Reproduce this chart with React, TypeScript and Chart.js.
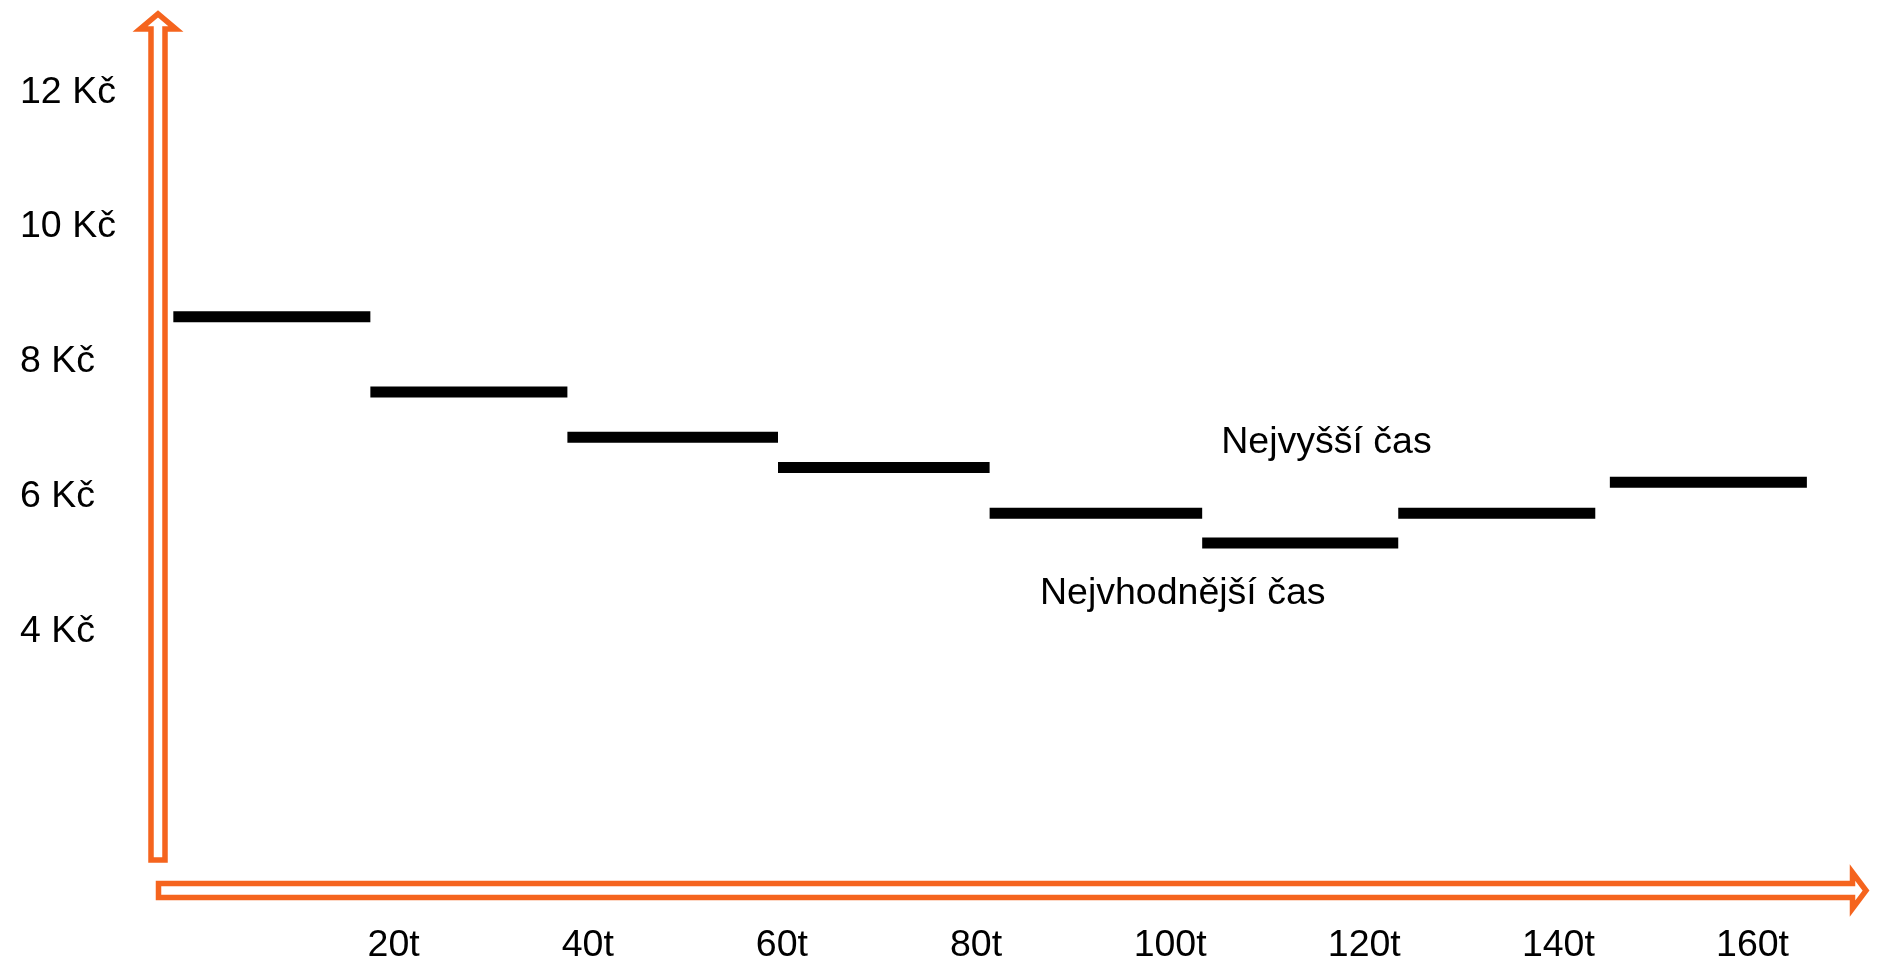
import React, { useEffect, useRef } from "react";
import { Chart, registerables } from "chart.js";

Chart.register(...registerables);

// ---- data ----
const stepStart = [-2.7, 17.6, 37.9, 59.6, 81.4, 103.3, 123.5, 145.3];
const stepEnd = [17.6, 37.9, 59.6, 81.4, 103.3, 123.5, 143.8, 165.6];
const prices = [8.67, 7.55, 6.88, 6.43, 5.75, 5.31, 5.75, 6.21];
const xTicks = [20, 40, 60, 80, 100, 120, 140, 160];
const yTicks = [4, 6, 8, 10, 12];
const xUnit = "t";
const yUnit = "Kč";
const noteTexts = ["Nejvyšší čas", "Nejvhodnější čas"];
const noteX = [116.1, 101.3];
const noteY = [6.65, 4.4];

const ORANGE = "#F5641E";
const FONT = "'Liberation Sans', Arial, sans-serif";
const FONT_SIZE = 37.5;

const decor = {
  id: "decor",
  beforeDatasetsDraw(chart: any) {
    const { ctx, chartArea: a } = chart;
    ctx.save();
    ctx.lineWidth = 5.5;
    ctx.strokeStyle = ORANGE;
    ctx.fillStyle = "#ffffff";
    ctx.lineJoin = "miter";

    // vertical block arrow (y axis)
    const cx = a.left + 7;
    const vBottom = a.bottom - 40.5;
    const vBase = a.top + 17.5;
    const vTip = a.top + 2.2;
    ctx.beginPath();
    ctx.moveTo(cx - 7, vBottom);
    ctx.lineTo(cx - 7, vBase);
    ctx.lineTo(cx - 18, vBase);
    ctx.lineTo(cx, vTip);
    ctx.lineTo(cx + 18, vBase);
    ctx.lineTo(cx + 7, vBase);
    ctx.lineTo(cx + 7, vBottom);
    ctx.closePath();
    ctx.fill();
    ctx.stroke();

    // horizontal block arrow (x axis)
    const cy = a.bottom - 10;
    const hLeft = a.left + 7.5;
    const hBase = a.right - 16.5;
    const hTip = a.right - 3;
    ctx.beginPath();
    ctx.moveTo(hLeft, cy - 7);
    ctx.lineTo(hBase, cy - 7);
    ctx.lineTo(hBase, cy - 18);
    ctx.lineTo(hTip, cy);
    ctx.lineTo(hBase, cy + 18);
    ctx.lineTo(hBase, cy + 7);
    ctx.lineTo(hLeft, cy + 7);
    ctx.closePath();
    ctx.fill();
    ctx.stroke();
    ctx.restore();
  },
  afterDatasetsDraw(chart: any) {
    const { ctx, scales } = chart;
    ctx.save();
    ctx.fillStyle = "#000";
    ctx.font = `${FONT_SIZE}px ${FONT}`;
    ctx.textAlign = "center";
    ctx.textBaseline = "alphabetic";
    noteTexts.forEach((t, i) => {
      ctx.fillText(t, scales.x.getPixelForValue(noteX[i]), scales.y.getPixelForValue(noteY[i]));
    });
    ctx.restore();
  },
};

export default function App() {
  const ref = useRef<HTMLCanvasElement | null>(null);

  useEffect(() => {
    if (!ref.current) return;
    const points: any[] = [];
    prices.forEach((p, i) => {
      points.push({ x: stepStart[i], y: p });
      points.push({ x: stepEnd[i], y: p });
      points.push({ x: stepEnd[i], y: null });
    });

    const chart = new Chart(ref.current, {
      type: "line",
      data: {
        datasets: [
          {
            data: points,
            borderColor: "#000",
            borderWidth: 11,
            borderCapStyle: "butt",
            pointRadius: 0,
            spanGaps: false,
            tension: 0,
          },
        ],
      },
      options: {
        animation: false,
        responsive: false,
        layout: { padding: { left: 20, top: 11.6, right: 11, bottom: 0 } },
        plugins: { legend: { display: false }, tooltip: { enabled: false } },
        scales: {
          x: {
            type: "linear",
            min: -5,
            max: 172,
            grid: { display: false },
            border: { display: false },
            afterBuildTicks: (s: any) => {
              s.ticks = xTicks.map((v) => ({ value: v }));
            },
            afterFit: (s: any) => {
              s.height = 56.4;
              s.paddingLeft = 0;
              s.paddingRight = 0;
            },
            ticks: {
              padding: 15,
              color: "#000",
              font: { family: FONT, size: FONT_SIZE },
              maxRotation: 0,
              autoSkip: false,
              callback: (v: any) => `${v}${xUnit}`,
            },
          },
          y: {
            type: "linear",
            min: 0,
            max: 13.2,
            grid: { display: false },
            border: { display: false },
            afterBuildTicks: (s: any) => {
              s.ticks = yTicks.map((v) => ({ value: v }));
            },
            afterFit: (s: any) => {
              s.width = 131;
              s.paddingTop = 0;
              s.paddingBottom = 0;
            },
            ticks: {
              crossAlign: "far",
              color: "#000",
              font: { family: FONT, size: FONT_SIZE },
              autoSkip: false,
              callback: (v: any) => `${v} ${yUnit}`,
            },
          },
        },
      },
      plugins: [decor],
    });
    return () => chart.destroy();
  }, []);

  return (
    <div style={{ position: "fixed", left: 0, top: 0, width: 1880, height: 957, background: "#fff" }}>
      <canvas ref={ref} width={1880} height={957} style={{ display: "block" }} />
    </div>
  );
}
